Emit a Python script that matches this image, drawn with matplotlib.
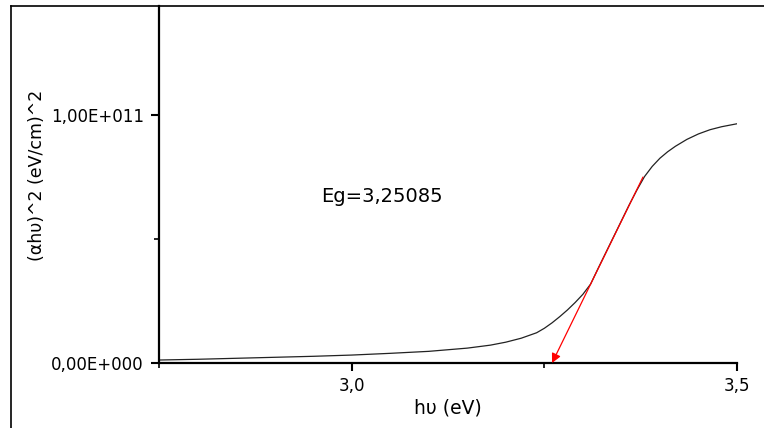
import numpy as np
import matplotlib
matplotlib.use('Agg')
import matplotlib.pyplot as plt
from matplotlib.ticker import FixedLocator, FuncFormatter, MultipleLocator
from matplotlib.lines import Line2D

# photon energy (eV) and (alpha h nu)^2 in units of 1e11 (eV/cm)^2
energy = [2.75, 2.80, 2.85, 2.90, 2.95, 3.00, 3.05, 3.10, 3.15, 3.18,
          3.20, 3.22, 3.24, 3.25, 3.26, 3.27, 3.28, 3.29, 3.30, 3.31,
          3.32, 3.34, 3.36, 3.37, 3.38, 3.39, 3.40, 3.41, 3.42, 3.435,
          3.45, 3.465, 3.48, 3.50]
absorb = [0.012, 0.015, 0.019, 0.023, 0.027, 0.032, 0.039, 0.047, 0.060, 0.072,
          0.084, 0.100, 0.122, 0.140, 0.162, 0.187, 0.214, 0.244, 0.277, 0.318,
          0.383, 0.51, 0.637, 0.697, 0.752, 0.793, 0.826, 0.852, 0.874, 0.902,
          0.924, 0.941, 0.953, 0.965]
scale = 1e11

# tangent (red arrow) from fit region down to x-axis
tan_start = (3.378, 0.75)
tan_end = (3.26, 0.0)
eg_text = 'Eg=3,25085'

y_ticks = [0.0, 1.0]
y_labels = ['0,00E+000', '1,00E+011']
x_ticks = [3.0, 3.5]
x_labels = ['3,0', '3,5']

fig = plt.figure(figsize=(7.64, 4.28), dpi=100)
ax = fig.add_axes([159 / 764, 1 - 363 / 428, (737 - 159) / 764, (363 - 6) / 428])

ax.plot(energy, [v * scale for v in absorb], color='#222222', lw=0.9)
ax.annotate('', xy=(tan_end[0], tan_end[1] * scale),
            xytext=(tan_start[0], tan_start[1] * scale),
            arrowprops=dict(arrowstyle='-|>', color='red', lw=0.9,
                            mutation_scale=14, shrinkA=0, shrinkB=0))

ax.set_xlim(2.75, 3.5)
ax.set_ylim(0, 1.44 * scale)

ax.xaxis.set_major_locator(FixedLocator(x_ticks))
ax.xaxis.set_major_formatter(FuncFormatter(lambda v, p: x_labels[x_ticks.index(round(v, 2))]))
ax.xaxis.set_minor_locator(MultipleLocator(0.25))
ax.yaxis.set_major_locator(FixedLocator([t * scale for t in y_ticks]))
ax.yaxis.set_major_formatter(FuncFormatter(lambda v, p: y_labels[y_ticks.index(round(v / scale, 2))]))
ax.yaxis.set_minor_locator(FixedLocator([0.5 * scale]))

for s in ['top', 'right']:
    ax.spines[s].set_visible(False)
for s in ['left', 'bottom']:
    ax.spines[s].set_linewidth(1.6)

ax.tick_params(which='major', direction='out', length=6, width=1.5, labelsize=12, pad=4)
ax.tick_params(which='minor', direction='out', length=3.5, width=1.2)
ax.tick_params(axis='y', pad=5)

ax.text(382, 428 - 197, eg_text, transform=None, fontsize=14, ha='center', va='center')
fig.text(448 / 764, 1 - 408 / 428, 'hυ (eV)', fontsize=13.5, ha='center', va='center')
fig.text(37 / 764, 1 - 175 / 428, '(αhυ)^2 (eV/cm)^2', fontsize=12.5,
         rotation=90, ha='center', va='center')

# outer frame lines (top and left)
fig.add_artist(Line2D([11 / 764, 1], [1 - 6 / 428, 1 - 6 / 428], color='black', lw=1.2))
fig.add_artist(Line2D([11 / 764, 11 / 764], [0, 1 - 6 / 428], color='black', lw=1.2))

fig.savefig('out.png', dpi=100)
